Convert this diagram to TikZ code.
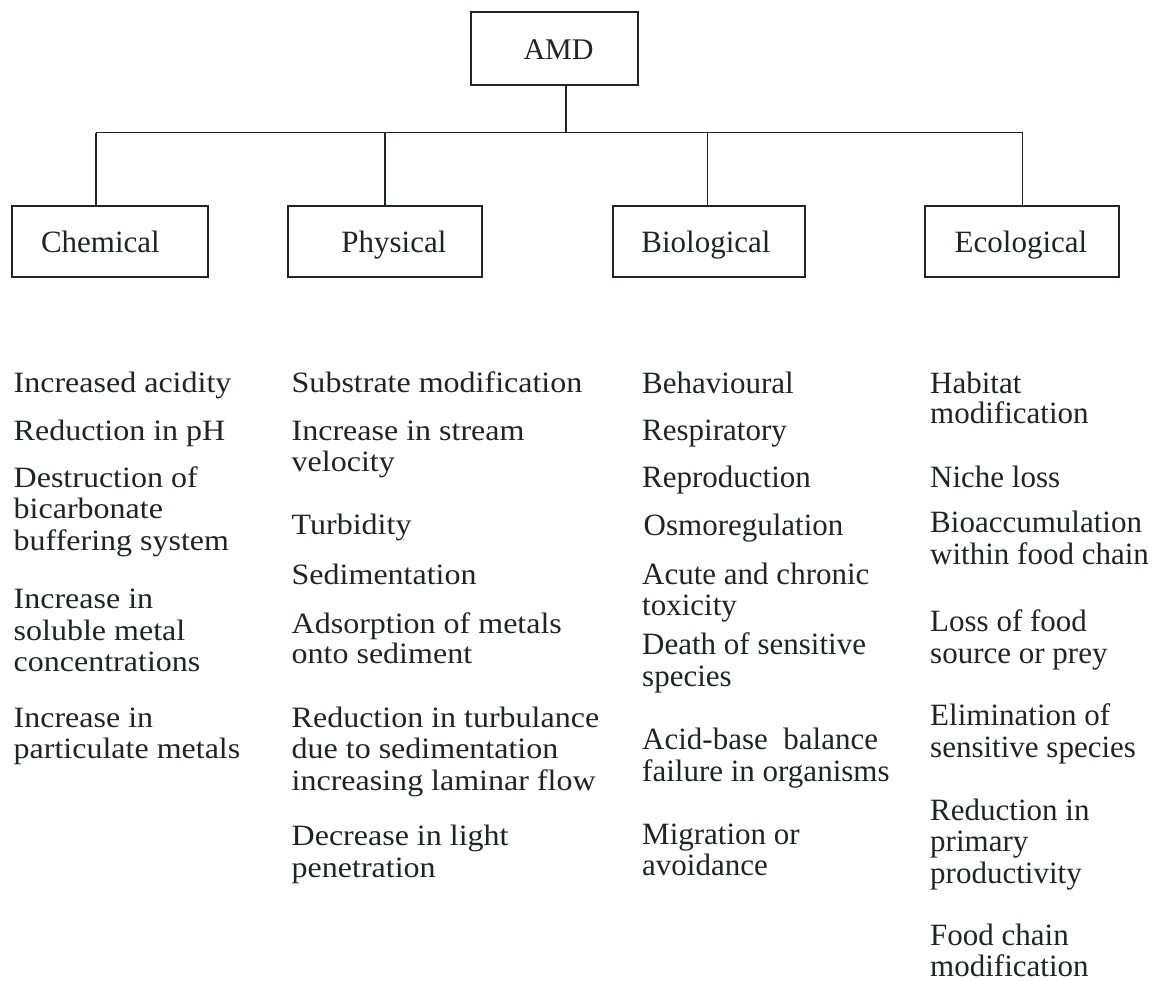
\documentclass[tikz,border=0pt]{standalone}
\usepackage{fontspec}
\setmainfont{Liberation Serif}
\newfontfamily\widefont{Liberation Serif}[FakeStretch=1.085]
\newcommand{\itemlines}[1]{\begin{tabular}[t]{@{}l@{}}#1\end{tabular}}
\definecolor{ink}{HTML}{1E2622}

\begin{document}
\begin{tikzpicture}[x=1pt, y=-1pt,
  box/.style={draw=ink, line width=1.8pt, inner sep=0pt},
  wire/.style={draw=ink, line width=1.5pt},
  boxlabel/.style={anchor=base west, inner sep=0pt, text=ink,
    font=\fontsize{31}{31.5}\selectfont},
  listA/.style={anchor=base west, inner sep=0pt, text=ink,
    font=\widefont\fontsize{29.5}{31.5}\selectfont},
  listB/.style={anchor=base west, inner sep=0pt, text=ink,
    font=\fontsize{31}{31.5}\selectfont}]

% canvas
\useasboundingbox (0,0) rectangle (1157,981);
\fill[white] (0,0) rectangle (1157,981);

% --- boxes ---
\node[box, minimum width=167pt, minimum height=72.5pt] (amd) at (554.3,48.6) {};
\node[box, minimum width=196.5pt, minimum height=71pt] (chem) at (109.9,241.2) {};
\node[box, minimum width=193.4pt, minimum height=71pt] (phys) at (385,241.2) {};
\node[box, minimum width=191.7pt, minimum height=71pt] (bio) at (709.2,241.2) {};
\node[box, minimum width=194.3pt, minimum height=71pt] (eco) at (1022.2,241.2) {};

% --- box labels ---
\node[boxlabel, font=\fontsize{30}{31.5}\selectfont] (amdlbl) at (523.3,59.3) {AMD};
\node[boxlabel] (chemlbl) at (40.8,252.3) {Chemical};
\node[boxlabel] (physlbl) at (341.2,252.3) {Physical};
\node[boxlabel] (biolbl) at (641.2,252.3) {Biological};
\node[boxlabel] (ecolbl) at (954.5,252.3) {Ecological};

% --- tree connectors ---
\coordinate (bus) at (566,132.7);
\coordinate (dchem) at (96,132.7);
\coordinate (dphys) at (385,132.7);
\coordinate (dbio) at (707.3,132.7);
\coordinate (deco) at (1022.7,132.7);
\draw[wire] (amd.south -| bus) -- (bus);
\draw[wire] (dchem) -- (deco);
\draw[wire] (dchem) -- (dchem |- chem.north);
\draw[wire] (dphys) -- (dphys |- phys.north);
\draw[wire] (dbio) -- (dbio |- bio.north);
\draw[wire] (deco) -- (deco |- eco.north);

% --- chemical effects ---
\node[listA] (c1a) at (13.5,392.5) {\itemlines{Increased acidity}};
\node[listA] (c1b) at (13.5,440.9) {\itemlines{Reduction in pH}};
\node[listA] (c1c) at (13.5,487.5) {\itemlines{Destruction of\\bicarbonate\\buffering system}};
\node[listA] (c1d) at (13.5,608.9) {\itemlines{Increase in\\soluble metal\\concentrations}};
\node[listA] (c1e) at (13.5,727.5) {\itemlines{Increase in\\[-0.8pt]particulate metals}};

% --- physical effects ---
\node[listA] (c2a) at (291.5,392.5) {\itemlines{Substrate modification}};
\node[listA] (c2b) at (291.5,440.9) {\itemlines{Increase in stream\\[-1pt]velocity}};
\node[listA] (c2c) at (291.5,534.9) {\itemlines{Turbidity}};
\node[listA] (c2d) at (291.5,584.9) {\itemlines{Sedimentation}};
\node[listA] (c2e) at (291.5,633.5) {\itemlines{Adsorption of metals\\[-2pt]onto sediment}};
\node[listA] (c2f) at (291.5,727.5) {\itemlines{Reduction in turbulance\\[-0.8pt]due to sedimentation\\[1.2pt]increasing laminar flow}};
\node[listA] (c2g) at (291.5,845.5) {\itemlines{Decrease in light\\penetration}};

% --- biological effects ---
\node[listB] (c3a) at (642,393.3) {\itemlines{Behavioural}};
\node[listB] (c3b) at (642,440.6) {\itemlines{Respiratory}};
\node[listB] (c3c) at (642,487.8) {\itemlines{Reproduction}};
\node[listB] (c3d) at (643.5,535.1) {\itemlines{Osmoregulation}};
\node[listB] (c3e) at (642,584) {\itemlines{Acute and chronic\\toxicity}};
\node[listB] (c3f) at (642,654.9) {\itemlines{Death of sensitive\\species}};
\node[listB] (c3g) at (642,749.9) {\itemlines{Acid-base\ \ balance\\failure in organisms}};
\node[listB] (c3h) at (642,844) {\itemlines{Migration or\\avoidance}};

% --- ecological effects ---
\node[listB] (c4a) at (930,393.3) {\itemlines{Habitat\\[-1.2pt]modification}};
\node[listB] (c4b) at (930,487.8) {\itemlines{Niche loss}};
\node[listB] (c4c) at (930,532) {\itemlines{Bioaccumulation\\[0.8pt]within food chain}};
\node[listB] (c4d) at (930,631.6) {\itemlines{Loss of food\\source or prey}};
\node[listB] (c4e) at (930,725) {\itemlines{Elimination of\\[0.8pt]sensitive species}};
\node[listB] (c4f) at (930,820.8) {\itemlines{Reduction in\\[-1.2pt]primary\\[1.2pt]productivity}};
\node[listB] (c4g) at (930,945.7) {\itemlines{Food chain\\[-1pt]modification}};
\end{tikzpicture}
\end{document}
